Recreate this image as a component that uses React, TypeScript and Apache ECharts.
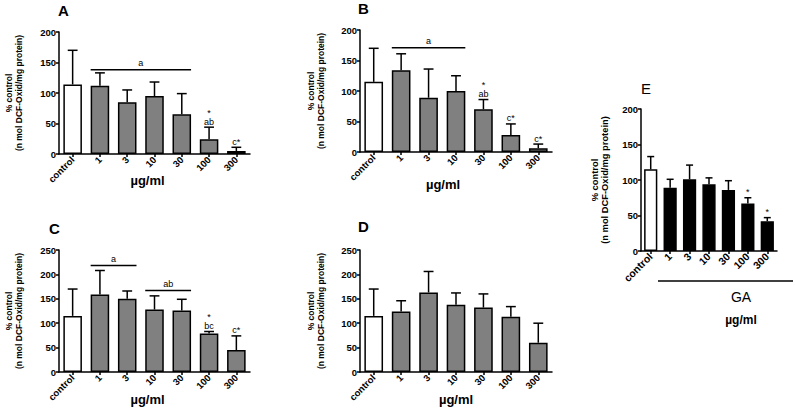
import React, { useEffect, useRef } from 'react';
import * as echarts from 'echarts';

const categories = ['control', '1', '3', '10', '30', '100', '300'];

// Panel A
const meanA = [114, 112, 85, 95, 65, 24, 5];
const sdA = [56, 21, 20, 23, 34, 20, 6];
const markA = ['', '', '', '', '', '*\nab', 'c*'];
const bracketA: [number, number, number, string][] = [[1, 4, 138, 'a']];

// Panel B
const meanB = [115, 134, 89, 100, 70, 28, 6];
const sdB = [55, 27, 47, 25, 16, 18, 7];
const markB = ['', '', '', '', '*\nab', 'c*', 'c*'];
const bracketB: [number, number, number, string][] = [[1, 3, 171, 'a']];

// Panel C
const meanC = [115, 159, 150, 128, 126, 79, 45];
const sdC = [55, 49, 16, 28, 23, 4, 29];
const markC = ['', '', '', '', '', '*\nbc', 'c*'];
const bracketC: [number, number, number, string][] = [[1, 2, 218, 'a'], [3, 4, 167, 'ab']];

// Panel D
const meanD = [115, 124, 163, 138, 132, 113, 60];
const sdD = [55, 22, 43, 24, 28, 21, 40];
const markD = ['', '', '', '', '', '', ''];
const bracketD: [number, number, number, string][] = [];

// Panel E (GA)
const meanE = [115, 89, 101, 94, 86, 67, 42];
const sdE = [18, 12, 20, 9, 13, 8, 5];
const markE = ['', '', '', '', '', '*', '*'];
const bracketE: [number, number, number, string][] = [];

const yMaxAB = 200;
const yMaxCD = 250;
const yInterval = 50;
const yName = '% control\n(n mol DCF-Oxid/mg protein)';
const xName = 'µg/ml';
const groupName = 'GA';

const FONT = '"Liberation Sans", Arial, sans-serif';

export default function App() {
  const ref = useRef<HTMLDivElement>(null);

  useEffect(() => {
    if (!ref.current) return;
    const chart = echarts.init(ref.current, null, { renderer: 'svg' });

    const panels = [
      { title: 'A', mean: meanA, sd: sdA, marks: markA, brackets: bracketA, max: yMaxAB, fill: '#808080', grid: { left: 59, top: 32, width: 191, height: 122 }, showXName: true, xGap: 20, xShift: -7, yGap: 35, fs: 1 },
      { title: 'B', mean: meanB, sd: sdB, marks: markB, brackets: bracketB, max: yMaxAB, fill: '#808080', grid: { left: 360, top: 30, width: 192, height: 122 }, showXName: true, xGap: 26, xShift: -13, yGap: 34, fs: 1 },
      { title: 'C', mean: meanC, sd: sdC, marks: markC, brackets: bracketC, max: yMaxCD, fill: '#808080', grid: { left: 59, top: 250, width: 191, height: 122 }, showXName: true, xGap: 21, xShift: -7, yGap: 35, fs: 1 },
      { title: 'D', mean: meanD, sd: sdD, marks: markD, brackets: bracketD, max: yMaxCD, fill: '#808080', grid: { left: 360, top: 250, width: 192, height: 122 }, showXName: true, xGap: 21, xShift: 0, yGap: 34, fs: 1 },
      { title: 'E', mean: meanE, sd: sdE, marks: markE, brackets: bracketE, max: yMaxAB, fill: '#000000', grid: { left: 641, top: 109, width: 136, height: 142 }, showXName: false, xGap: 20, xShift: 0, yGap: 31, fs: 1.1 },
    ];

    const BAR_FRAC = 0.68;
    const CAP_FRAC = 0.36;

    const grids: any[] = [];
    const xAxes: any[] = [];
    const yAxes: any[] = [];
    const series: any[] = [];

    panels.forEach((p, k) => {
      grids.push({ ...p.grid, containLabel: false });
      const sh = p.xShift;
      xAxes.push({
        type: 'category',
        gridIndex: k,
        data: categories,
        name: p.showXName ? xName : '',
        nameLocation: 'middle',
        nameGap: p.xGap,
        nameMoveOverlap: false,
        nameTextStyle: {
          fontFamily: FONT, fontWeight: 'bold', fontSize: 13, color: '#000',
          padding: [0, sh < 0 ? -2 * sh : 0, 0, sh > 0 ? 2 * sh : 0],
        },
        axisLine: { lineStyle: { color: '#000', width: 1.5 } },
        axisTick: { show: true, alignWithLabel: true, length: 3, lineStyle: { color: '#000', width: 1.5 } },
        axisLabel: { interval: 0, rotate: 45, margin: 4, fontFamily: FONT, fontWeight: 'bold', fontSize: 9.5 * p.fs, color: '#000' },
        splitLine: { show: false },
      });
      yAxes.push({
        type: 'value',
        gridIndex: k,
        min: 0,
        max: p.max,
        interval: yInterval,
        name: yName,
        nameLocation: 'middle',
        nameRotate: 90,
        nameGap: p.yGap,
        nameMoveOverlap: false,
        nameTextStyle: { fontFamily: FONT, fontWeight: 'bold', fontSize: 8.5 * p.fs, lineHeight: 10, color: '#000' },
        axisLine: { show: true, lineStyle: { color: '#000', width: 1.5 } },
        axisTick: { show: true, length: 3, lineStyle: { color: '#000', width: 1.5 } },
        axisLabel: { margin: 3, fontFamily: FONT, fontWeight: 'bold', fontSize: 9.5, color: '#000' },
        splitLine: { show: false },
      });

      series.push({
        type: 'bar',
        xAxisIndex: k,
        yAxisIndex: k,
        barWidth: BAR_FRAC * 100 + '%',
        data: p.mean.map((v, i) => ({ value: v, itemStyle: { color: i === 0 ? '#ffffff' : p.fill } })),
        itemStyle: { borderColor: '#000', borderWidth: 1.5 },
        z: 2,
      });

      const mean = p.mean, sd = p.sd, marks = p.marks;
      series.push({
        type: 'custom',
        xAxisIndex: k,
        yAxisIndex: k,
        z: 3,
        encode: { x: 0, y: 2 },
        data: mean.map((v, i) => [i, v, v + sd[i]]),
        renderItem: (params: any, api: any) => {
          const i = api.value(0);
          const base = api.coord([i, api.value(1)]);
          const top = api.coord([i, api.value(2)]);
          const band = api.size([1, 0])[0];
          const half = (band * CAP_FRAC) / 2;
          const children: any[] = [
            { type: 'line', shape: { x1: base[0], y1: base[1], x2: top[0], y2: top[1] }, style: { stroke: '#000', lineWidth: 1.5 } },
            { type: 'line', shape: { x1: top[0] - half, y1: top[1], x2: top[0] + half, y2: top[1] }, style: { stroke: '#000', lineWidth: 1.5 } },
          ];
          const m = marks[params.dataIndex];
          if (m) {
            children.push({
              type: 'text',
              style: { x: top[0], y: top[1] - 1, text: m, align: 'center', verticalAlign: 'bottom', fontFamily: FONT, fontSize: 9, lineHeight: 9, fill: '#000' },
            });
          }
          return { type: 'group', children };
        },
      });

      if (p.brackets.length) {
        const br = p.brackets;
        series.push({
          type: 'custom',
          xAxisIndex: k,
          yAxisIndex: k,
          z: 3,
          encode: { x: 0, y: 2 },
          data: br.map((b) => [b[0], b[1], b[2]]),
          renderItem: (params: any, api: any) => {
            const a = api.coord([api.value(0), api.value(2)]);
            const b = api.coord([api.value(1), api.value(2)]);
            const band = api.size([1, 0])[0];
            const hw = (band * BAR_FRAC) / 2;
            const label = br[params.dataIndex][3];
            return {
              type: 'group',
              children: [
                { type: 'line', shape: { x1: a[0] - hw, y1: a[1], x2: b[0] + hw, y2: b[1] }, style: { stroke: '#000', lineWidth: 1.5 } },
                { type: 'text', style: { x: (a[0] + b[0]) / 2, y: a[1] - 2, text: label, align: 'center', verticalAlign: 'bottom', fontFamily: FONT, fontSize: 9, fill: '#000' } },
              ],
            };
          },
        });
      }
    });

    const titles = [
      { text: 'A', left: 58, top: 3, fw: 'bold' },
      { text: 'B', left: 358, top: 1, fw: 'bold' },
      { text: 'C', left: 49, top: 221, fw: 'bold' },
      { text: 'D', left: 358, top: 219, fw: 'bold' },
      { text: 'E', left: 641, top: 81, fw: 'normal' },
    ].map((t) => ({ text: t.text, left: t.left, top: t.top, padding: 0, textStyle: { fontFamily: FONT, fontWeight: t.fw, fontSize: 15, color: '#000' } }));

    chart.setOption({
      animation: false,
      backgroundColor: '#ffffff',
      title: titles,
      grid: grids,
      xAxis: xAxes,
      yAxis: yAxes,
      series,
      graphic: [
        { type: 'line', shape: { x1: 658, y1: 281, x2: 793, y2: 281 }, style: { stroke: '#000', lineWidth: 1.5 } },
        { type: 'text', x: 741, y: 297, style: { text: groupName, align: 'center', verticalAlign: 'middle', fontFamily: FONT, fontSize: 14, fill: '#000' } },
        { type: 'text', x: 741, y: 320, style: { text: xName, align: 'center', verticalAlign: 'middle', fontFamily: FONT, fontSize: 12, fontWeight: 'bold', fill: '#000' } },
      ],
    });

    return () => chart.dispose();
  }, []);

  return <div ref={ref} style={{ position: 'absolute', left: 0, top: 0, width: 795, height: 414, background: '#fff' }} />;
}
